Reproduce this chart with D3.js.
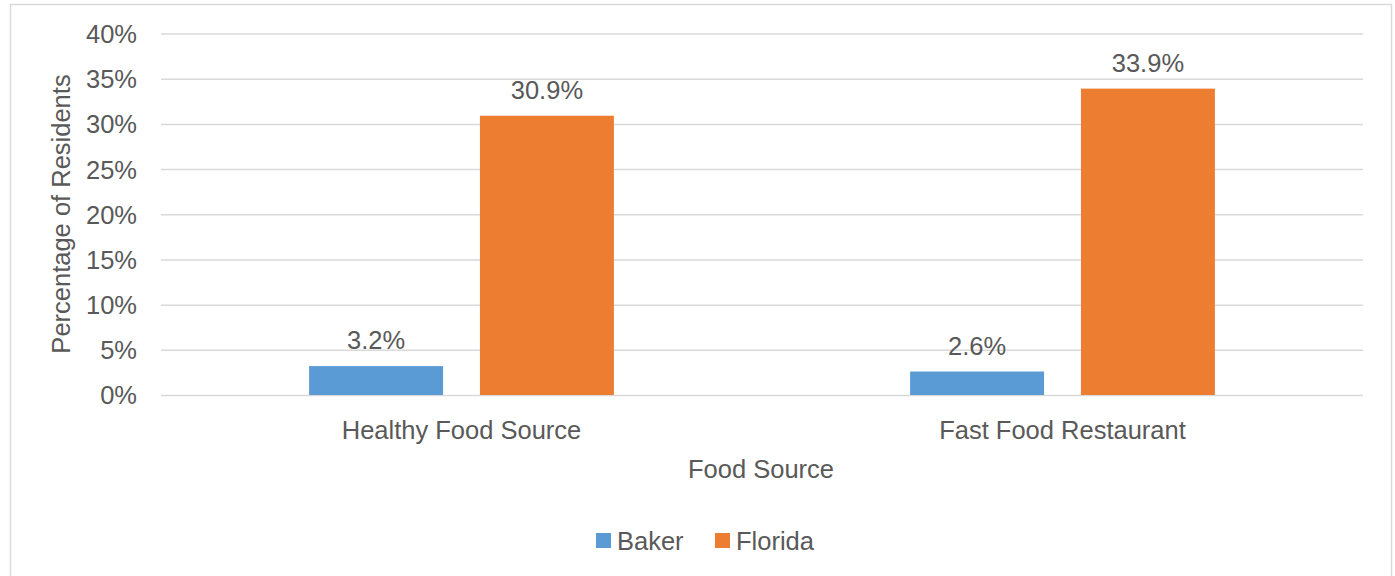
<!DOCTYPE html>
<html><head><meta charset="utf-8">
<script src="https://cdn.jsdelivr.net/npm/d3@7"></script>
<style>body{margin:0;background:#fff}svg{display:block}text{font-family:"Liberation Sans",Arial,sans-serif;fill:#595959}</style>
</head><body><svg id="c" width="1395" height="576"></svg>
<script>
const categories = ["Healthy Food Source", "Fast Food Restaurant"];
const seriesNames = ["Baker", "Florida"];
const baker = [3.2, 2.6];
const florida = [30.9, 33.9];
const yTicks = [0, 5, 10, 15, 20, 25, 30, 35, 40];
const colors = ["#5B9BD5", "#ED7D31"];
const FS = 25.5;

const svg = d3.select("#c");
svg.append("rect").attr("x",10.5).attr("y",4.5).attr("width",1381).attr("height",580)
  .attr("fill","#fff").attr("stroke","#D9D9D9").attr("stroke-width",1.5);

const pLeft=161, pRight=1363, pTop=33.5, pBottom=395;
const y = d3.scaleLinear().domain([0,40]).range([pBottom, pTop]);
const x0 = d3.scaleBand().domain(categories).range([pLeft,pRight]).padding(0);
const x1 = d3.scaleBand().domain(seriesNames).range([0,x0.bandwidth()]).paddingInner(0.216).paddingOuter(0.867);

const yAxis = d3.axisLeft(y).tickValues(yTicks).tickFormat(d=>d+"%").tickSize(-(pRight-pLeft)).tickPadding(24);
const gy = svg.append("g").attr("transform",`translate(${pLeft},0)`).call(yAxis);
gy.attr("font-family",null).attr("font-size",null);
gy.select(".domain").remove();
gy.selectAll(".tick line").attr("stroke","#D9D9D9").attr("stroke-width",1.5);
gy.selectAll(".tick text").attr("font-size",FS).attr("dy","0.35em").style("fill","#595959");

const data = categories.map((c,i)=>({cat:c, vals:[{s:"Baker",v:baker[i]},{s:"Florida",v:florida[i]}]}));
const g = svg.append("g");
const grp = g.selectAll("g").data(data).join("g").attr("transform",d=>`translate(${x0(d.cat)},0)`);
grp.selectAll("rect").data(d=>d.vals).join("rect")
  .attr("x",d=>x1(d.s)).attr("width",x1.bandwidth())
  .attr("y",d=>y(d.v)).attr("height",d=>y(0)-y(d.v))
  .attr("fill",(d,i)=>colors[i]);
grp.selectAll("text.lbl").data(d=>d.vals).join("text").attr("class","lbl")
  .attr("x",d=>x1(d.s)+x1.bandwidth()/2).attr("y",d=>y(d.v)-17)
  .attr("text-anchor","middle").attr("font-size",FS).text(d=>d.v.toFixed(1)+"%");

svg.append("g").selectAll("text").data(categories).join("text")
  .attr("x",d=>x0(d)+x0.bandwidth()/2).attr("y",439).attr("text-anchor","middle")
  .attr("font-size",FS).text(d=>d);

svg.append("text").attr("x",761).attr("y",478).attr("text-anchor","middle").attr("font-size",FS).text("Food Source");
svg.append("text").attr("transform","translate(70,214) rotate(-90)").attr("text-anchor","middle").attr("font-size",FS).text("Percentage of Residents");

const legX=[596,715];
seriesNames.forEach((s,i)=>{
  svg.append("rect").attr("x",legX[i]).attr("y",533).attr("width",15).attr("height",15).attr("fill",colors[i]);
  svg.append("text").attr("x",legX[i]+21).attr("y",550).attr("font-size",FS).text(s);
});
</script></body></html>
